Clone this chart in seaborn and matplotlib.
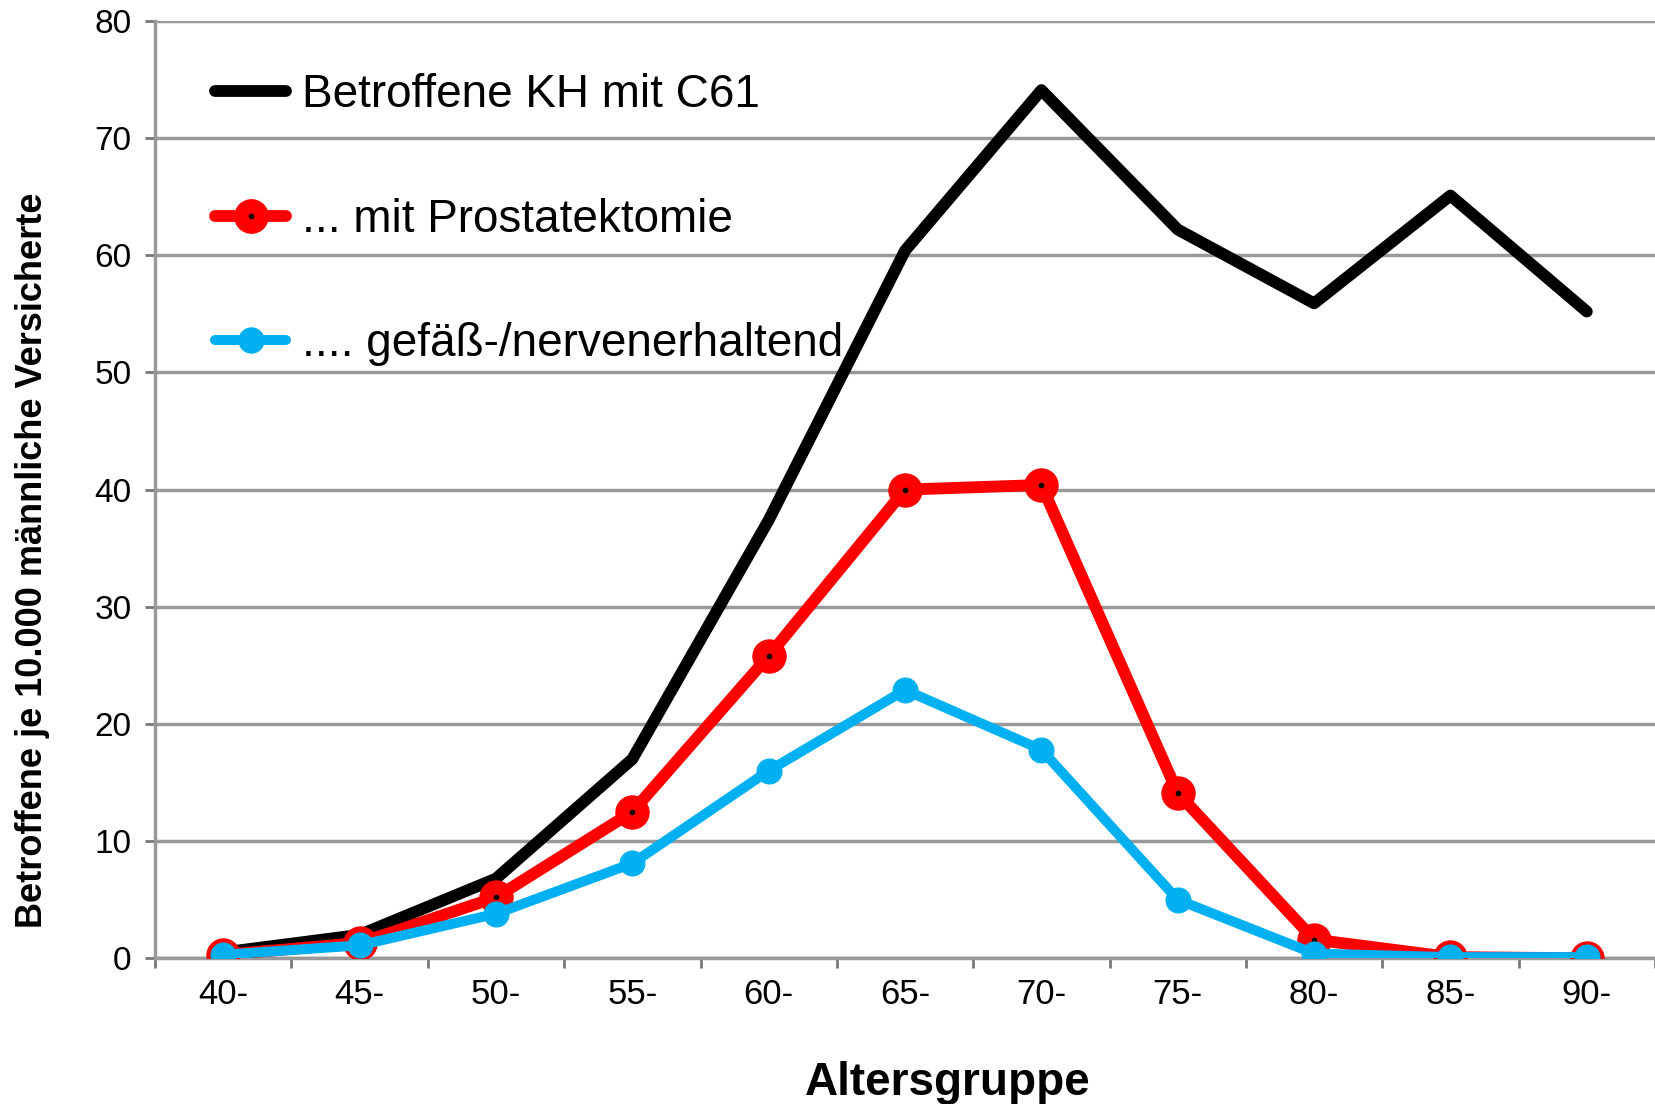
import numpy as np
import pandas as pd
import seaborn as sns
import matplotlib.pyplot as plt
from matplotlib.lines import Line2D
from matplotlib.legend_handler import HandlerTuple

# Altersgruppen und Werte je 10.000 männliche Versicherte
age_groups = ['40-', '45-', '50-', '55-', '60-', '65-', '70-', '75-', '80-', '85-', '90-']
kh_c61 = [0.5, 2.0, 6.8, 17.0, 37.4, 60.4, 74.1, 62.2, 55.9, 65.1, 55.2]
prostatektomie = [0.3, 1.3, 5.2, 12.5, 25.8, 40.0, 40.4, 14.1, 1.6, 0.1, 0.0]
nervenerhaltend = [0.3, 1.1, 3.8, 8.1, 16.0, 22.9, 17.8, 5.0, 0.4, 0.1, 0.1]

labels = ['Betroffene KH mit C61', '... mit Prostatektomie', '.... gefäß-/nervenerhaltend']

sns.set_style('white')
plt.rcParams['font.family'] = ['Liberation Sans Narrow', 'Liberation Sans', 'DejaVu Sans']
plt.rcParams['text.color'] = 'black'
plt.rcParams['axes.labelcolor'] = 'black'
plt.rcParams['xtick.color'] = 'black'
plt.rcParams['ytick.color'] = 'black'

df = pd.DataFrame({'pos': np.arange(len(age_groups)),
                   'kh': kh_c61, 'pe': prostatektomie, 'ne': nervenerhaltend})

fig = plt.figure(figsize=(16.55, 11.04), dpi=100)
ax = fig.add_axes([0.0937, 0.132, 0.9063, 0.849])

grid_col = '#999999'
red = '#ff0000'
blue = '#00b0f0'

sns.lineplot(data=df, x='pos', y='kh', ax=ax, color='black', linewidth=8.5, sort=False, zorder=3)
sns.lineplot(data=df, x='pos', y='pe', ax=ax, color=red, linewidth=8.5, marker='o',
             markersize=24, markeredgecolor=red, markerfacecolor=red, sort=False, zorder=4)
ax.plot(df['pos'], df['pe'], linestyle='none', marker='o', markersize=3, color='black', zorder=4.5)
sns.lineplot(data=df, x='pos', y='ne', ax=ax, color=blue, linewidth=7.2, marker='o',
             markersize=18, markeredgecolor=blue, markerfacecolor=blue, sort=False, zorder=5)

ax.set_xlim(-0.5, len(age_groups) - 0.5)
ax.set_ylim(0, 80)
ax.set_yticks(range(0, 81, 10))
ax.set_xticks(df['pos'])
ax.set_xticklabels(age_groups)
ax.set_xticks(np.arange(-0.5, len(age_groups), 1), minor=True)

ax.yaxis.grid(True, color=grid_col, linewidth=2.5)
ax.set_axisbelow(True)
for s in ['top', 'right']:
    ax.spines[s].set_visible(False)
for s in ['left', 'bottom']:
    ax.spines[s].set_color(grid_col)
    ax.spines[s].set_linewidth(2.5)

ax.tick_params(axis='y', which='major', left=True, length=7, width=2, color='#777777',
               labelsize=24, pad=10)
ax.tick_params(axis='x', which='major', bottom=False, length=0, labelsize=25, pad=14)
ax.tick_params(axis='x', which='minor', bottom=True, length=7, width=2, color='#777777')

ax.set_xlabel('Altersgruppe', fontsize=33, fontweight='bold')
ax.xaxis.set_label_coords(0.5285, -0.11)
ax.set_ylabel('Betroffene je 10.000 männliche Versicherte', fontsize=26, fontweight='bold')
ax.yaxis.set_label_coords(-0.07, 0.4245)

h_black = Line2D([], [], color='black', linewidth=8.5, solid_capstyle='round')
h_red = Line2D([], [], color=red, linewidth=8.5, marker='o', markersize=24, solid_capstyle='round')
h_dot = Line2D([], [], linestyle='none', marker='o', markersize=3, color='black')
h_blue = Line2D([], [], color=blue, linewidth=7.2, marker='o', markersize=18, solid_capstyle='round')
ax.legend([h_black, (h_red, h_dot), h_blue], labels,
          handler_map={tuple: HandlerTuple(ndivide=1, pad=0)},
          loc='upper left', bbox_to_anchor=(0.04, 0.944), frameon=False,
          fontsize=33, labelspacing=1.75, handlelength=1.55, handletextpad=0.35,
          borderpad=0, borderaxespad=0)

plt.savefig('out.png', dpi=100)
